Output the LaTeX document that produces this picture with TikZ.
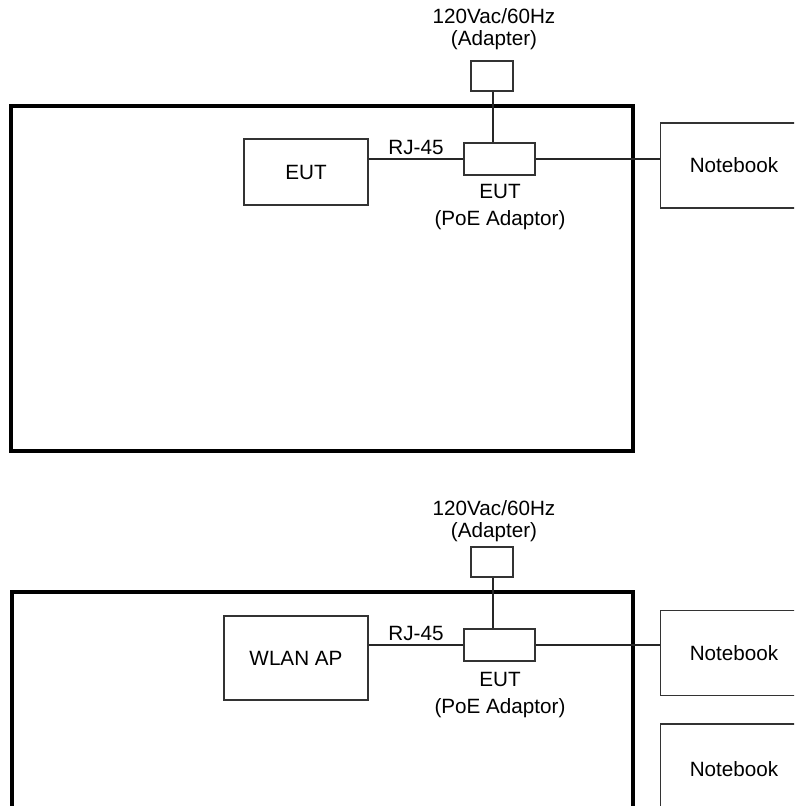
\documentclass[tikz,border=0pt]{standalone}
\usepackage{fontspec}
\setmainfont{Liberation Sans}
\begin{document}
\begin{tikzpicture}[x=0.75pt, y=-0.75pt, line join=miter,
  frame/.style={line width=3pt},
  main node/.style={rectangle,draw=black!80,line width=1.2pt,inner sep=0pt},
  wire/.style={line width=1.1pt,draw=black!85},
  every node/.style={font=\fontsize{15.5}{16}\selectfont}]
\clip (0,0) rectangle (794,806);
% panel 1
\draw[frame] (11,106) rectangle (633,451);
\node [main node,minimum width=93pt,minimum height=49.5pt](e1) at (306,172) {EUT};
\node [main node,minimum width=31.5pt,minimum height=22.5pt](a1) at (492,76) {};
\node [main node,minimum width=53pt,minimum height=24pt](p1) at (499.5,159) {};
\node [main node,minimum width=110pt,minimum height=64pt](n1) at (734,165.5) {Notebook};
\node (l1) at (494,29) [align=center] {120Vac/60Hz\\(Adapter)};
\node (r1) at (416,147) {RJ-45};
\node (t1) at (500,207) [align=center,font=\fontsize{15.5}{20}\selectfont] {EUT\\(PoE Adaptor)};
\path[wire]
  (a1.south -| 493,0) edge (p1.north -| 493,0)
  (p1.west) edge (p1.west -| e1.east)
  (p1.east) edge (p1.east -| n1.west)
  ;
% panel 2
\draw[frame] (12,592) rectangle (633,900);
\node [main node,minimum width=108pt,minimum height=63pt](w2) at (296,658) {WLAN AP};
\node [main node,minimum width=31.5pt,minimum height=22.5pt](a2) at (492,562) {};
\node [main node,minimum width=53pt,minimum height=24pt](p2) at (499.5,645) {};
\node [main node,minimum width=110pt,minimum height=64pt](n2) at (734,653) {Notebook};
\node [main node,minimum width=110pt,minimum height=67.5pt](n3) at (734,769) {Notebook};
\node (l2) at (494,521) [align=center,font=\fontsize{15.5}{17}\selectfont] {120Vac/60Hz\\(Adapter)};
\node (r2) at (416,633) {RJ-45};
\node (t2) at (500,695) [align=center,font=\fontsize{15.5}{20}\selectfont] {EUT\\(PoE Adaptor)};
\path[wire]
  (a2.south -| 493,0) edge (p2.north -| 493,0)
  (p2.west) edge (p2.west -| w2.east)
  (p2.east) edge (p2.east -| n2.west)
  ;
\end{tikzpicture}
\end{document}
